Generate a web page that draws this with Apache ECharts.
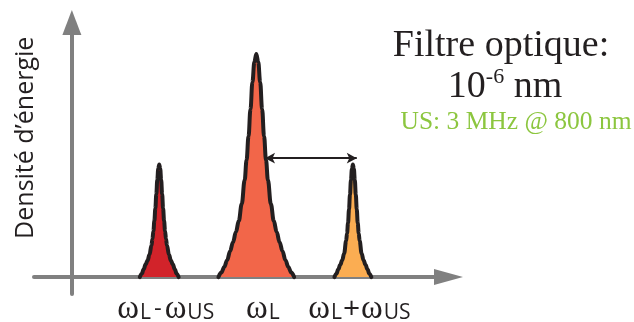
<!DOCTYPE html>
<html>
<head>
<meta charset="utf-8">
<script src="https://cdn.jsdelivr.net/npm/echarts@6/dist/echarts.min.js"></script>
<style>html,body{margin:0;padding:0;background:#fff;}#c{width:634px;height:322px;}</style>
</head>
<body>
<div id="c"></div>
<script>
// Frequency axis (arbitrary units, y-axis at 0), energy density (arbitrary units)
var peakPositions = [90, 190, 289.5];
var tickLabels = [
  '{w|ω}{s|L}{m|-}{w|ω}{s|US}',
  '{w|ω}{s|L}',
  '{w|ω}{s|L}{p|+}{w|ω}{s|US}'
];
var lowerSideband = [[70,0],[72,1.5],[74,3.5],[76,5.7],[78,7.4],[80,10],[82,14],[83,16.9],[84,20.5],[85,25],[86,30.5],[87,36.8],[88,43.1],[89,48.1],[90,50],[91,48.1],[92,43.1],[93,36.8],[94,30.5],[95,25],[96,20.5],[97,16.9],[98,14],[100,10],[102,7.4],[104,5.7],[106,3.5],[108,1.5],[110,0]];
var carrier = [[151,0],[154,2],[157,4.5],[160,7.5],[163,11.5],[166,15.5],[169,20],[172,25],[175,32.5],[178,43],[180,52],[182,62.5],[184,74.5],[186,86.5],[188,95.5],[190,99],[192,95.5],[194,86.5],[196,74.5],[198,62.5],[200,52],[202,43],[205,32.5],[208,25],[211,20],[214,15.5],[217,11.5],[220,7.5],[223,4.5],[226,2],[229,0]];
var upperSideband = [[270.5,0],[272.5,1.5],[274.5,3.5],[276.5,5.5],[278.5,7.5],[280.5,10.5],[282.5,16],[283.5,19.5],[284.5,24],[285.5,30],[286.5,36.5],[287.5,43],[288.5,48],[289.5,50],[290.5,48],[291.5,43],[292.5,36.5],[293.5,30],[294.5,24],[295.5,19.5],[296.5,16],[298.5,10.5],[300.5,7.5],[302.5,5.5],[304.5,3.5],[306.5,1.5],[308.5,0]];
var spacingArrow = [[199, 52.8], [293.5, 52.8]];
var yAxisName = 'Densité d’énergie';
var titleLine1 = 'Filtre optique:';
var titleLine2 = '{b|10}{sup|-6}{b| nm}';
var subtitle = 'US: 3 MHz @ 800 nm';

var AXIS = '#808080', INK = '#231f20';
function peakSeries(data, color, extra) {
  var s = {
    type: 'line', data: data, smooth: 0.4, smoothMonotone: 'x', showSymbol: false, symbol: 'none',
    lineStyle: { color: INK, width: 4, join: 'round', cap: 'round' },
    areaStyle: { color: color, opacity: 1 },
    silent: true, z: 3
  };
  for (var k in extra) s[k] = extra[k];
  return s;
}
var chart = echarts.init(document.getElementById('c'), null, { renderer: 'canvas' });
chart.setOption({
  animation: false,
  backgroundColor: '#fff',
  title: [
    { text: titleLine1, left: 501, top: 27, textAlign: 'center', padding: 0,
      textStyle: { fontFamily: 'Liberation Serif', fontSize: 38, fontWeight: 'normal', color: INK } },
    { text: titleLine2, left: 505, top: 66, textAlign: 'center', padding: 0,
      textStyle: { fontWeight: 'normal', rich: {
        b: { fontFamily: 'Liberation Serif', fontSize: 38, fontWeight: 'normal', color: INK, verticalAlign: 'bottom', lineHeight: 40 },
        sup: { fontFamily: 'Liberation Serif', fontSize: 22, fontWeight: 'normal', color: INK, verticalAlign: 'top', lineHeight: 26 }
      } } },
    { text: subtitle, left: 516, top: 109, textAlign: 'center', padding: 0,
      textStyle: { fontFamily: 'Liberation Serif', fontSize: 25.5, fontWeight: 'normal', color: '#8cc63f' } }
  ],
  grid: { left: 34, right: 185.5, top: 22.5, bottom: 28, containLabel: false, outerBoundsMode: 'none' },
  xAxis: {
    type: 'value', min: -39, max: 388,
    splitLine: { show: false }, axisTick: { show: false },
    axisLine: { show: true, onZero: true, symbol: ['none', 'triangle'], symbolSize: [16, 29],
      lineStyle: { color: AXIS, width: 4 } },
    axisLabel: {
      show: true, customValues: peakPositions, margin: 0,
      padding: [0, 0, 0, 14],
      formatter: function (v) {
        var i = peakPositions.indexOf(v);
        return i >= 0 ? tickLabels[i] : '';
      },
      rich: {
        w: { fontFamily: 'Liberation Serif', fontSize: 33, color: INK, lineHeight: 30, verticalAlign: 'middle' },
        s: { fontFamily: 'Open Sans', fontSize: 21, color: INK, lineHeight: 22, verticalAlign: 'bottom', padding: [0, 1, 0, 1] },
        m: { fontFamily: 'Open Sans', fontSize: 24, color: INK, lineHeight: 30, verticalAlign: 'middle', padding: [0, 3, 0, 2] },
        p: { fontFamily: 'Open Sans', fontSize: 30, color: INK, lineHeight: 30, verticalAlign: 'middle', padding: [0, 1, 0, 0] }
      }
    }
  },
  yAxis: {
    type: 'value', min: -7.5, max: 113,
    splitLine: { show: false }, axisTick: { show: false }, axisLabel: { show: false },
    axisLine: { show: true, onZero: true, symbol: ['none', 'triangle'], symbolSize: [19, 25],
      lineStyle: { color: AXIS, width: 4 } },
    name: yAxisName, nameLocation: 'middle', nameRotate: 90, nameGap: -4, nameMoveOverlap: false,
    nameTextStyle: { fontFamily: 'Open Sans', fontSize: 25, color: INK, padding: [0, 0, 0, 41] }
  },
  series: [
    peakSeries(lowerSideband, '#d2232a'),
    peakSeries(carrier, '#f26649', {
      markLine: {
        silent: true, symbol: ['arrow', 'arrow'], symbolSize: [8, 10],
        label: { show: false },
        lineStyle: { color: INK, width: 2, type: 'solid' },
        data: [[{ coord: spacingArrow[0] }, { coord: spacingArrow[1] }]]
      }
    }),
    peakSeries(upperSideband, '#fbad52')
  ]
});
</script>
</body>
</html>
